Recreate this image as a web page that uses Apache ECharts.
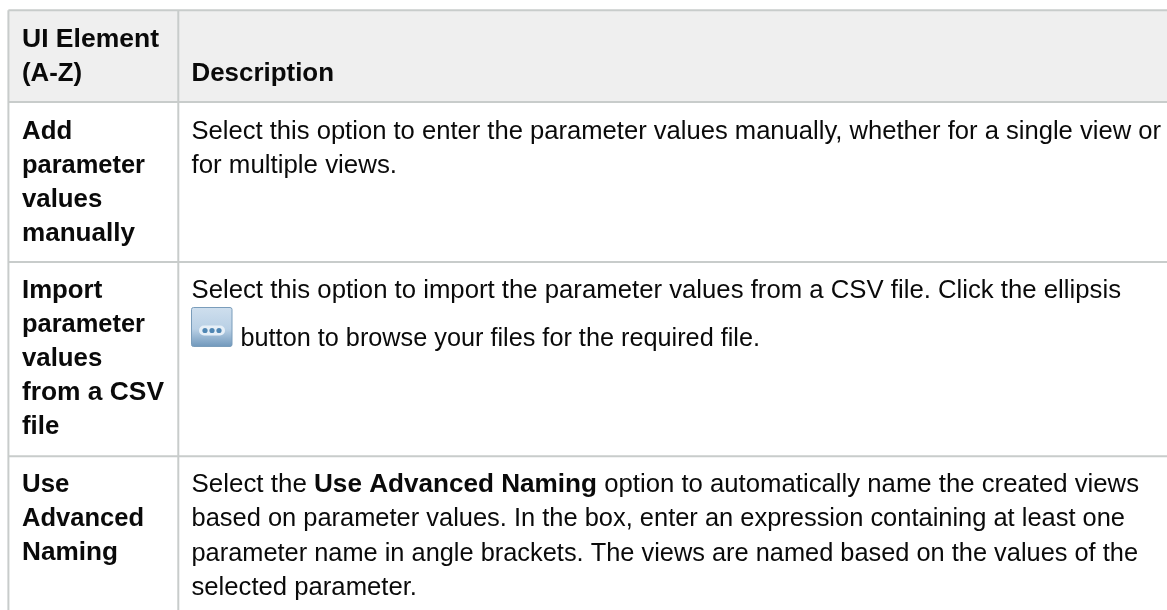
<!DOCTYPE html>
<html><head><meta charset="utf-8">
<style>html,body{margin:0;padding:0;background:#fff}#c{width:1167px;height:610px}</style>
<script src="https://cdn.jsdelivr.net/npm/echarts@6/dist/echarts.min.js"></script>
</head><body><div id="c"></div>
<script>
const headerCells = [["UI Element", "(A-Z)"], ["Description"]];
const elementNames = [
  ["Add", "parameter", "values", "manually"],
  ["Import", "parameter", "values", "from a CSV", "file"],
  ["Use", "Advanced", "Naming"]
];
const descriptions = [
  ["Select this option to enter the parameter values manually, whether for a single view or", "for multiple views."],
  ["Select this option to import the parameter values from a CSV file. Click the ellipsis", "{ICON} button to browse your files for the required file."],
  ["Select the **Use Advanced Naming** option to automatically name the created views", "based on parameter values. In the box, enter an expression containing at least one", "parameter name in angle brackets. The views are named based on the values of the", "selected parameter."]
];
// Layout (not data)
const FONT = '"Liberation Sans", Arial, sans-serif', SIZE = 25.6, BSIZE = 25.8, LH = 34;
const BORDER = '#c8cccb', HEAD = '#efefef', INK = '#0a0a0a';
const X0 = 8.4, X1 = 178.3, XR = 1167, TOP = 10.3, HB = 102;
const rowSeps = [262, 456.3];
const rowFirstY = [131.5, 291, 485];
const TX1 = 22, TX2 = 191.5;
const descEnds = [[1161, 397], [1121, 760], [1139, 1125, 1138, 417]];
const nameEnds = [[null, 145, null, 135], [null, 145, null, 164, null], [null, 144, 118]];
const g = [];
g.push({type:'rect',shape:{x:X0,y:TOP,width:XR-X0,height:HB-TOP},style:{fill:HEAD}});
function line(x1,y1,x2,y2){g.push({type:'line',shape:{x1,y1,x2,y2},style:{stroke:BORDER,lineWidth:2}});}
function fontOf(b){return (b?'bold '+BSIZE:SIZE)+'px '+FONT;}
const cv = document.createElement('canvas').getContext('2d');
function width(t,b){cv.font=fontOf(b);return cv.measureText(t).width;}
function text(x,yc,t,bold,end){
  const scaleX = end ? (end-x)/width(t,bold) : 1;
  g.push({type:'text',x,y:yc,scaleX,style:{text:t,font:fontOf(bold),fill:INK,verticalAlign:'middle',align:'left'}});
}
line(X0,TOP,XR,TOP); line(X0,HB,XR,HB); line(X0,TOP,X0,610); line(X1,TOP,X1,610);
rowSeps.forEach(y=>line(X0,y,XR,y));
headerCells[0].forEach((t,i)=>text(TX1,[39.5,74][i],t,true,i===0?159:null));
text(TX2,74,headerCells[1][0],true,334);
elementNames.forEach((lines,r)=>lines.forEach((t,i)=>text(TX1,rowFirstY[r]+i*LH,t,true,nameEnds[r][i])));
descriptions.forEach((lines,r)=>lines.forEach((t,i)=>{
  let yc = rowFirstY[r]+i*(r===2?34.3:LH), x = TX2, end = descEnds[r][i];
  if(t.startsWith('{ICON}')){
    yc = 339;
    const b = 347;
    g.push({type:'rect',shape:{x:191.5,y:b-39.5,width:40.5,height:39,r:2},style:{stroke:'#7a9dbb',lineWidth:1,fill:new echarts.graphic.LinearGradient(0,0,0,1,[{offset:0,color:'#cfdfee'},{offset:.55,color:'#b9d0e5'},{offset:1,color:'#6f97bb'}])}});
    g.push({type:'rect',shape:{x:199,y:b-21.5,width:26,height:10,r:5},style:{fill:'#e6eff7'}});
    [205,212,219].forEach(cx=>g.push({type:'circle',shape:{cx,cy:b-16.5,r:2.6},style:{fill:'#4f86b3'}}));
    t = t.replace('{ICON} ',''); x = 240.5;
  }
  if(t.includes('**')){
    const [a,b,c] = t.split('**');
    text(x,yc,a,false,314);
    text(314,yc,b,true,597);
    text(597,yc,c,false,end);
  } else text(x,yc,t,false,end);
}));
const chart = echarts.init(document.getElementById('c'),null,{renderer:'canvas'});
chart.setOption({animation:false,backgroundColor:'#fff',graphic:{elements:g}});
</script></body></html>
